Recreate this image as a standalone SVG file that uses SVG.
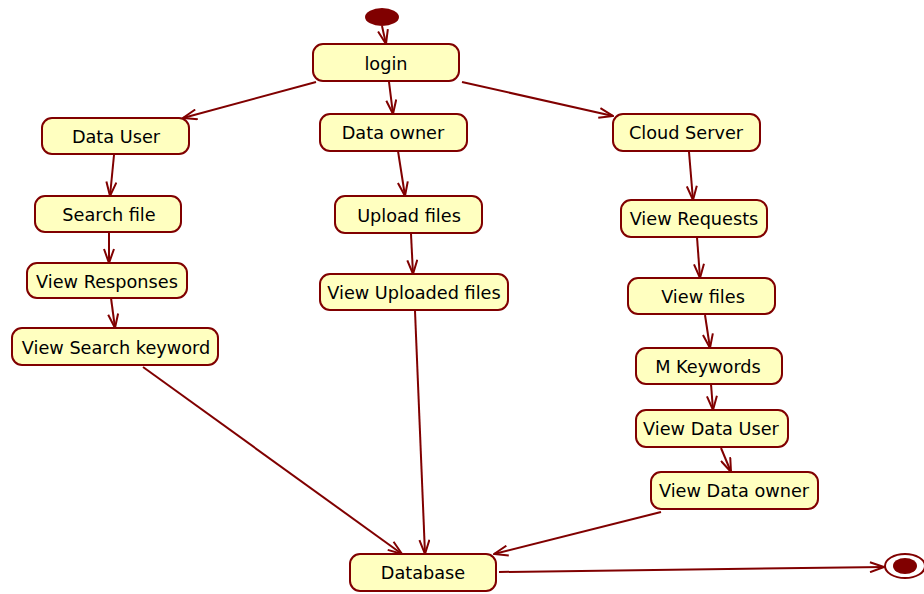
<svg xmlns="http://www.w3.org/2000/svg" width="924" height="594" viewBox="0 0 924 594">
<style>
.n rect{fill:#ffffc0;stroke:#800000;stroke-width:2}
.n text{font-family:"DejaVu Sans",sans-serif;font-size:17.7px;fill:#000;text-anchor:middle}
.c line{stroke:#800000;stroke-width:2;marker-end:url(#a)}
</style>
<defs>
<marker id="a" markerWidth="16" markerHeight="12" refX="15" refY="6" orient="auto" markerUnits="userSpaceOnUse">
<path d="M1,1 L15,6 L1,11" fill="none" stroke="#800000" stroke-width="2"/>
</marker>
</defs>
<rect width="924" height="594" fill="#fff"/>
<g id="start"><ellipse cx="382" cy="17" rx="17" ry="9" fill="#800000"/></g>
<g id="end"><ellipse cx="905" cy="566" rx="20" ry="12" fill="#fff" stroke="#800000" stroke-width="2"/><ellipse cx="905" cy="566" rx="12" ry="8" fill="#800000"/></g>
<g id="login" class="n"><rect x="313" y="44" width="146" height="37" rx="10"/><text x="386" y="70">login</text></g>
<g id="dataUser" class="n"><rect x="42" y="118" width="147" height="36" rx="10"/><text x="116" y="143">Data User</text></g>
<g id="dataOwner" class="n"><rect x="320" y="114" width="147" height="37" rx="10"/><text x="393" y="139">Data owner</text></g>
<g id="cloudServer" class="n"><rect x="613" y="114" width="147" height="37" rx="10"/><text x="686" y="139">Cloud Server</text></g>
<g id="searchFile" class="n"><rect x="35" y="196" width="146" height="36" rx="10"/><text x="109" y="221">Search file</text></g>
<g id="uploadFiles" class="n"><rect x="335" y="196" width="147" height="37" rx="10"/><text x="409" y="222">Upload files</text></g>
<g id="viewRequests" class="n"><rect x="621" y="200" width="146" height="37" rx="10"/><text x="694" y="225">View Requests</text></g>
<g id="viewResponses" class="n"><rect x="27" y="263" width="160" height="35" rx="10"/><text x="107" y="288">View Responses</text></g>
<g id="viewUploaded" class="n"><rect x="320" y="274" width="188" height="36" rx="10"/><text x="414" y="299">View Uploaded files</text></g>
<g id="viewFiles" class="n"><rect x="628" y="278" width="147" height="36" rx="10"/><text x="703" y="303">View files</text></g>
<g id="viewSearchKeyword" class="n"><rect x="12" y="328" width="206" height="37" rx="10"/><text x="116" y="354">View Search keyword</text></g>
<g id="mKeywords" class="n"><rect x="636" y="348" width="146" height="36" rx="10"/><text x="708" y="373">M Keywords</text></g>
<g id="viewDataUser" class="n"><rect x="636" y="410" width="152" height="37" rx="10"/><text x="711" y="435">View Data User</text></g>
<g id="viewDataOwner" class="n"><rect x="651" y="472" width="167" height="37" rx="10"/><text x="734" y="497">View Data owner</text></g>
<g id="database" class="n"><rect x="350" y="554" width="146" height="37" rx="10"/><text x="423" y="579">Database</text></g>
<g id="connectors" class="c">
<line x1="382" y1="26" x2="386" y2="44"/>
<line x1="316" y1="82" x2="183" y2="118"/>
<line x1="389" y1="82" x2="393" y2="114"/>
<line x1="462" y1="82" x2="613" y2="116"/>
<line x1="114" y1="155" x2="110" y2="196"/>
<line x1="109" y1="232" x2="109" y2="263"/>
<line x1="111" y1="298" x2="115" y2="328"/>
<line x1="143" y1="367" x2="402" y2="554"/>
<line x1="398" y1="151" x2="405" y2="196"/>
<line x1="411" y1="234" x2="413" y2="274"/>
<line x1="415" y1="311" x2="425" y2="554"/>
<line x1="689" y1="152" x2="693" y2="200"/>
<line x1="697" y1="237" x2="700" y2="278"/>
<line x1="705" y1="315" x2="710" y2="348"/>
<line x1="711" y1="384" x2="713" y2="410"/>
<line x1="721" y1="448" x2="731" y2="472"/>
<line x1="661" y1="512" x2="494" y2="554"/>
<line x1="499" y1="572" x2="884" y2="567"/>
</g>
</svg>
